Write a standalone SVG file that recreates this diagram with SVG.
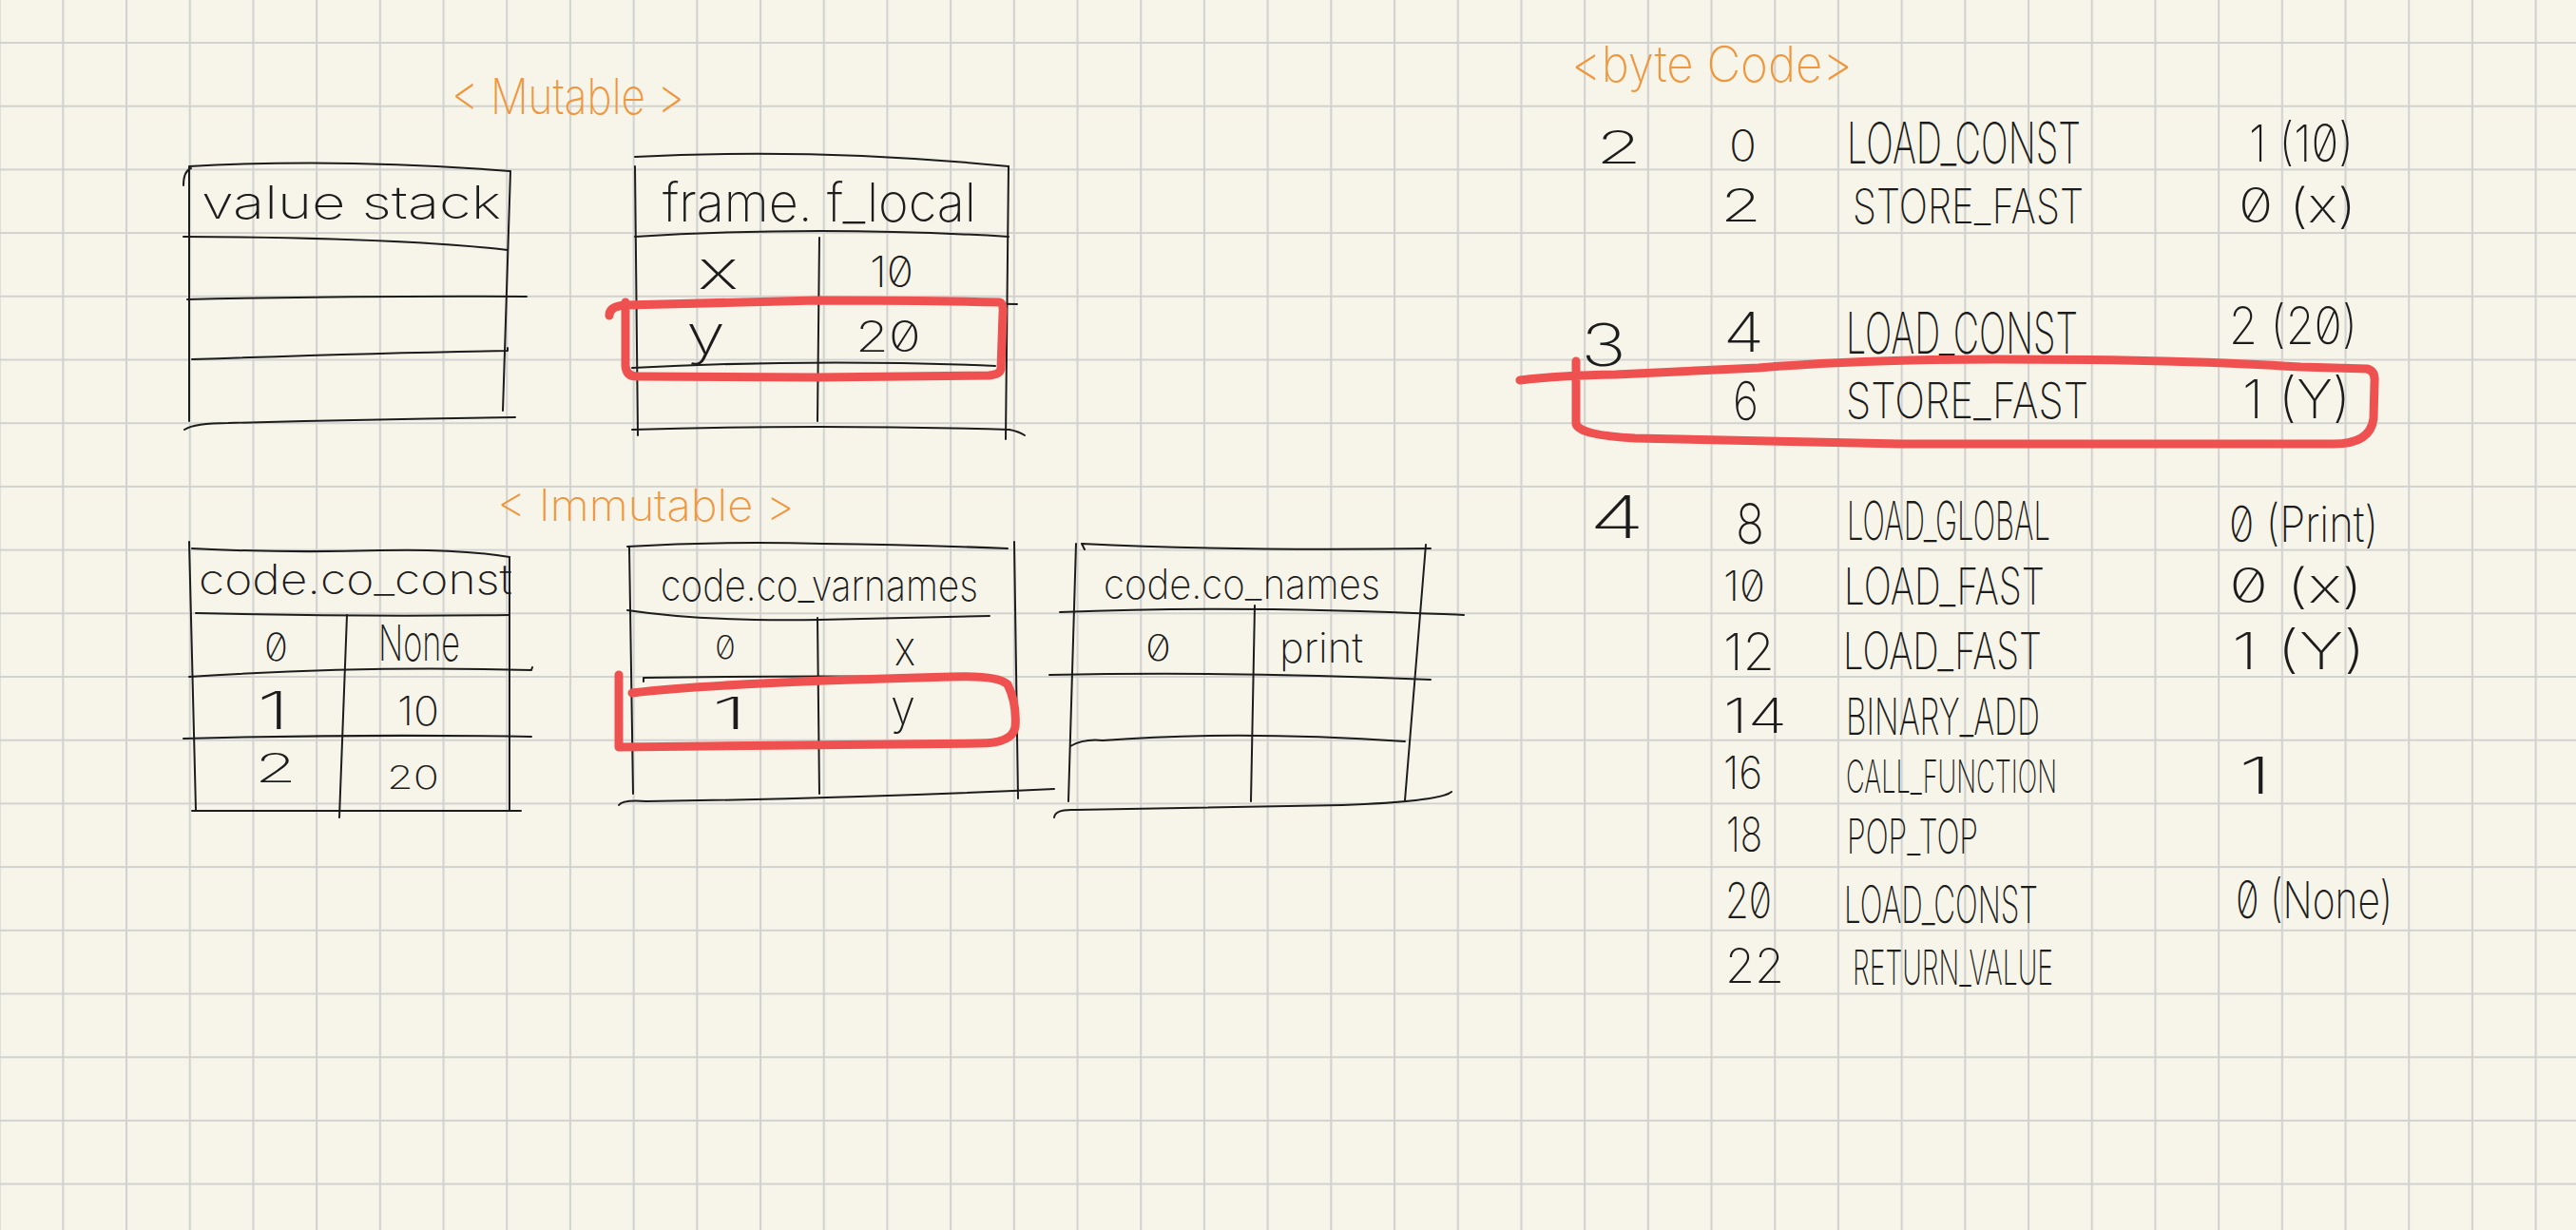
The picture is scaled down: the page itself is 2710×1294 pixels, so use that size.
<svg xmlns="http://www.w3.org/2000/svg" width="2710" height="1294" viewBox="0 0 2710 1294">
<defs>
<pattern id="grid" x="65.3" y="44" width="66.7" height="66.7" patternUnits="userSpaceOnUse">
<path d="M1 0V66.7M0 1H66.7" stroke="#d2d2d0" stroke-width="2.2" fill="none"/>
</pattern>
<style>
.ink{fill:none;stroke:#1c1c1c;stroke-width:2;stroke-linecap:round;stroke-linejoin:round}
.red{fill:none;stroke:#ef5151;stroke-width:9;stroke-linecap:round;stroke-linejoin:round}
.t{font-family:Inter,"Liberation Sans","DejaVu Sans",sans-serif;font-weight:250;fill:#1c1c1c}
.o{font-family:Inter,"Liberation Sans","DejaVu Sans",sans-serif;font-weight:250;fill:#f0963c}
.z{font-feature-settings:"zero" 1}
</style>
</defs>
<rect width="2710" height="1294" fill="#f7f5e9"/>
<rect width="2710" height="1294" fill="url(#grid)"/>

<g id="labels">
<text class="o" x="475" y="120" font-size="52" textLength="245" lengthAdjust="spacingAndGlyphs">&lt; Mutable &gt;</text>
<text class="o" x="523" y="548" font-size="46" textLength="313" lengthAdjust="spacingAndGlyphs">&lt; Immutable &gt;</text>
<text class="o" x="1653" y="86" font-size="52" textLength="296" lengthAdjust="spacingAndGlyphs">&lt;byte Code&gt;</text>
</g>

<g id="value-stack">
<path class="ink" d="M193,195 Q193,180 201,177"/>
<path class="ink" d="M199,175 Q360,166 536,180"/>
<path class="ink" d="M199,176 L199,443"/>
<path class="ink" d="M537,180 L529,432"/>
<path class="ink" d="M193,249 Q420,250 534,263"/>
<path class="ink" d="M197,315 Q380,311 554,312"/>
<path class="ink" d="M202,378 Q400,371 534,369 L534,366"/>
<path class="ink" d="M194,452 Q205,445 240,445 Q400,441 542,439"/>
<text class="t" x="212" y="230" font-size="48" textLength="315" lengthAdjust="spacingAndGlyphs">value stack</text>
</g>

<g id="frame-f-local">
<path class="ink" d="M668,165 Q860,155 1061,175"/>
<path class="ink" d="M668,175 L671,458"/>
<path class="ink" d="M1061,175 L1058,462"/>
<path class="ink" d="M668,249 Q860,237 1061,249"/>
<path class="ink" d="M862,250 L860,443"/>
<path class="ink" d="M672,321 Q860,316 1070,320"/>
<path class="ink" d="M665,387 Q860,377 1047,385"/>
<path class="ink" d="M665,452 Q860,446 1062,452 Q1072,454 1078,458"/>
<text class="t" x="697" y="233" font-size="56" textLength="330" lengthAdjust="spacingAndGlyphs">frame. f_local</text>
<text class="t" x="734" y="304" font-size="56" textLength="43" lengthAdjust="spacingAndGlyphs">x</text>
<text class="t z" x="915" y="302" font-size="45" textLength="46" lengthAdjust="spacingAndGlyphs">10</text>
<text class="t" x="722" y="372" font-size="56" textLength="41" lengthAdjust="spacingAndGlyphs">y</text>
<text class="t z" x="900" y="370" font-size="45" textLength="69" lengthAdjust="spacingAndGlyphs">20</text>
</g>

<g id="code-co-const">
<path class="ink" d="M202,577 Q300,582 400,579 Q480,577 536,586"/>
<path class="ink" d="M199,570 L206,852"/>
<path class="ink" d="M536,586 L536,852"/>
<path class="ink" d="M206,645 Q370,649 536,647"/>
<path class="ink" d="M365,647 L357,860"/>
<path class="ink" d="M199,712 Q380,700 559,705 L560,702"/>
<path class="ink" d="M193,777 Q380,772 559,775"/>
<path class="ink" d="M202,853 L548,853"/>
<text class="t" x="209" y="625" font-size="44" textLength="330" lengthAdjust="spacingAndGlyphs">code.co_const</text>
<text class="t z" x="278" y="695" font-size="40" textLength="25" lengthAdjust="spacingAndGlyphs">0</text>
<text class="t" x="398" y="695" font-size="52" textLength="86" lengthAdjust="spacingAndGlyphs">None</text>
<text class="t" x="270" y="767" font-size="55" textLength="35" lengthAdjust="spacingAndGlyphs">1</text>
<text class="t" x="418" y="763" font-size="42" textLength="44" lengthAdjust="spacingAndGlyphs">10</text>
<text class="t" x="268" y="823" font-size="42" textLength="44" lengthAdjust="spacingAndGlyphs">2</text>
<text class="t" x="407" y="830" font-size="34" textLength="55" lengthAdjust="spacingAndGlyphs">20</text>
</g>

<g id="code-co-varnames">
<path class="ink" d="M660,575 Q760,569 866,572 Q960,573 1060,577"/>
<path class="ink" d="M662,575 L666,835"/>
<path class="ink" d="M1067,570 L1071,840"/>
<path class="ink" d="M660,642 Q740,654 862,652 L1041,648"/>
<path class="ink" d="M860,650 L862,835"/>
<path class="ink" d="M677,717 L677,713 Q860,710 1051,713"/>
<path class="ink" d="M651,847 Q655,841 680,843 Q900,840 1109,830"/>
<text class="t" x="695" y="632" font-size="46" textLength="334" lengthAdjust="spacingAndGlyphs">code.co_varnames</text>
<text class="t z" x="752" y="693" font-size="34" textLength="22" lengthAdjust="spacingAndGlyphs">0</text>
<text class="t" x="941" y="700" font-size="50" textLength="22" lengthAdjust="spacingAndGlyphs">x</text>
<text class="t" x="748" y="767" font-size="46" textLength="39" lengthAdjust="spacingAndGlyphs">1</text>
<text class="t" x="937" y="762" font-size="50" textLength="26" lengthAdjust="spacingAndGlyphs">y</text>
</g>

<g id="code-co-names">
<path class="ink" d="M1141,578 L1138,572 Q1300,580 1505,577"/>
<path class="ink" d="M1132,572 L1124,843"/>
<path class="ink" d="M1500,573 L1478,842"/>
<path class="ink" d="M1115,644 Q1300,636 1540,647"/>
<path class="ink" d="M1320,637 L1316,843"/>
<path class="ink" d="M1104,710 Q1300,706 1505,715"/>
<path class="ink" d="M1126,785 Q1140,777 1160,779 Q1300,768 1478,780"/>
<path class="ink" d="M1109,860 Q1110,851 1131,852 L1412,847 Q1515,843 1527,833"/>
<text class="t" x="1161" y="630" font-size="44" textLength="291" lengthAdjust="spacingAndGlyphs">code.co_names</text>
<text class="t z" x="1205" y="695" font-size="38" textLength="27" lengthAdjust="spacingAndGlyphs">0</text>
<text class="t" x="1346" y="697" font-size="44" textLength="88" lengthAdjust="spacingAndGlyphs">print</text>
</g>

<g id="bytecode">
<g id="bc-line2">
<text class="t" x="1679" y="172" font-size="48" textLength="48" lengthAdjust="spacingAndGlyphs">2</text>
<text class="t" x="1819" y="170" font-size="46" textLength="29" lengthAdjust="spacingAndGlyphs">0</text>
<text class="t" x="1943" y="172" font-size="60" textLength="246" lengthAdjust="spacingAndGlyphs">LOAD_CONST</text>
<text class="t z" x="2366" y="170" font-size="54" textLength="110" lengthAdjust="spacingAndGlyphs">1 (10)</text>
<text class="t" x="1810" y="233" font-size="48" textLength="43" lengthAdjust="spacingAndGlyphs">2</text>
<text class="t" x="1949" y="235" font-size="50" textLength="243" lengthAdjust="spacingAndGlyphs">STORE_FAST</text>
<text class="t z" x="2355" y="234" font-size="50" textLength="124" lengthAdjust="spacingAndGlyphs">0 (x)</text>
</g>
<g id="bc-line3">
<text class="t" x="1663" y="385" font-size="62" textLength="48" lengthAdjust="spacingAndGlyphs">3</text>
<text class="t" x="1813" y="370" font-size="58" textLength="43" lengthAdjust="spacingAndGlyphs">4</text>
<text class="t" x="1942" y="372" font-size="60" textLength="244" lengthAdjust="spacingAndGlyphs">LOAD_CONST</text>
<text class="t z" x="2345" y="362" font-size="54" textLength="135" lengthAdjust="spacingAndGlyphs">2 (20)</text>
<text class="t" x="1823" y="442" font-size="56" textLength="27" lengthAdjust="spacingAndGlyphs">6</text>
<text class="t" x="1942" y="440" font-size="52" textLength="255" lengthAdjust="spacingAndGlyphs">STORE_FAST</text>
<text class="t" x="2359" y="440" font-size="56" textLength="114" lengthAdjust="spacingAndGlyphs">1 (Y)</text>
</g>
<g id="bc-line4">
<text class="t" x="1672" y="566" font-size="62" textLength="58" lengthAdjust="spacingAndGlyphs">4</text>
<text class="t" x="1826" y="572" font-size="58" textLength="30" lengthAdjust="spacingAndGlyphs">8</text>
<text class="t" x="1943" y="568" font-size="56" textLength="214" lengthAdjust="spacingAndGlyphs">LOAD_GLOBAL</text>
<text class="t z" x="2345" y="570" font-size="52" textLength="157" lengthAdjust="spacingAndGlyphs">0 (Print)</text>
<text class="t z" x="1813" y="632" font-size="44" textLength="44" lengthAdjust="spacingAndGlyphs">10</text>
<text class="t" x="1940" y="636" font-size="54" textLength="211" lengthAdjust="spacingAndGlyphs">LOAD_FAST</text>
<text class="t z" x="2345" y="634" font-size="50" textLength="141" lengthAdjust="spacingAndGlyphs">0 (x)</text>
<text class="t" x="1813" y="705" font-size="54" textLength="54" lengthAdjust="spacingAndGlyphs">12</text>
<text class="t" x="1939" y="704" font-size="54" textLength="209" lengthAdjust="spacingAndGlyphs">LOAD_FAST</text>
<text class="t" x="2348" y="704" font-size="54" textLength="141" lengthAdjust="spacingAndGlyphs">1 (Y)</text>
<text class="t" x="1813" y="771" font-size="50" textLength="67" lengthAdjust="spacingAndGlyphs">14</text>
<text class="t" x="1942" y="773" font-size="54" textLength="204" lengthAdjust="spacingAndGlyphs">BINARY_ADD</text>
<text class="t" x="1813" y="830" font-size="48" textLength="41" lengthAdjust="spacingAndGlyphs">16</text>
<text class="t" x="1942" y="834" font-size="48" textLength="222" lengthAdjust="spacingAndGlyphs">CALL_FUNCTION</text>
<text class="t" x="2355" y="835" font-size="54" textLength="35" lengthAdjust="spacingAndGlyphs">1</text>
<text class="t" x="1816" y="896" font-size="50" textLength="38" lengthAdjust="spacingAndGlyphs">18</text>
<text class="t" x="1943" y="898" font-size="50" textLength="138" lengthAdjust="spacingAndGlyphs">POP_TOP</text>
<text class="t z" x="1815" y="966" font-size="52" textLength="49" lengthAdjust="spacingAndGlyphs">20</text>
<text class="t" x="1940" y="971" font-size="54" textLength="204" lengthAdjust="spacingAndGlyphs">LOAD_CONST</text>
<text class="t z" x="2352" y="966" font-size="54" textLength="165" lengthAdjust="spacingAndGlyphs">0 (None)</text>
<text class="t" x="1815" y="1034" font-size="50" textLength="62" lengthAdjust="spacingAndGlyphs">22</text>
<text class="t" x="1949" y="1036" font-size="50" textLength="211" lengthAdjust="spacingAndGlyphs">RETURN_VALUE</text>
</g>
</g>

<g id="highlights">
<path class="red" d="M641,332 Q641,322 658,321 L860,316 Q980,316 1052,318 Q1056,320 1055,330 L1053,388 Q1052,394 1040,395 L860,397 L670,396 Q659,396 658,385 L658,318"/>
<path class="red" d="M665,729 Q760,718 1000,712 Q1050,710 1060,720 Q1070,740 1068,765 Q1065,782 1030,782 L651,786 L651,710"/>
<path class="red" d="M1599,400 Q1640,395 1700,394 L1850,387 Q1960,378 2100,378 Q2300,378 2420,386 L2490,388 Q2499,390 2498,402 L2497,440 Q2494,467 2455,467 L2000,467 L1720,461 Q1662,458 1658,446 L1658,380"/>
</g>

<g id="connectors"/>
</svg>
